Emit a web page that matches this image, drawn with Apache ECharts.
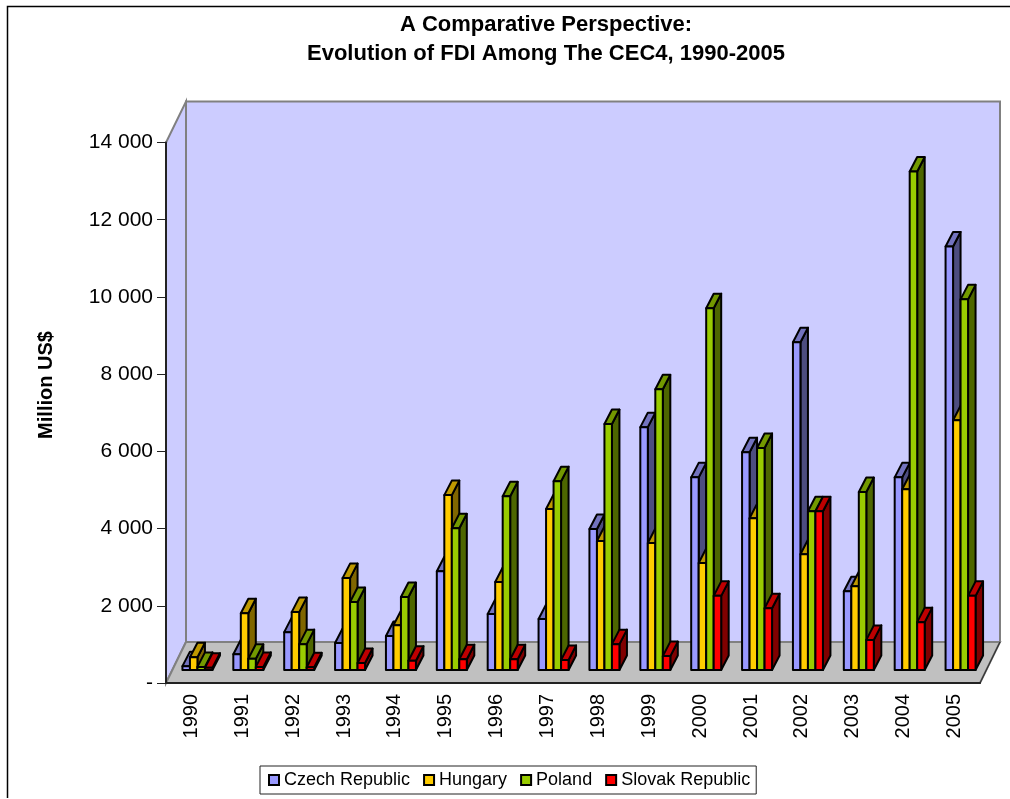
<!DOCTYPE html>
<html><head><meta charset="utf-8">
<style>html,body{margin:0;padding:0;background:#fff}#c{width:1010px;height:799px}</style>
<script src="https://cdn.jsdelivr.net/npm/echarts@6/dist/echarts.min.js"></script>
</head><body><div id="c"></div>
<script>
const years = ['1990','1991','1992','1993','1994','1995','1996','1997','1998','1999','2000','2001','2002','2003','2004','2005'];
const czech   = [100,410,980,700,880,2560,1450,1320,3650,6290,4990,5640,8490,2040,4990,10970];
const hungary = [330,1470,1500,2380,1160,4530,2280,4170,3340,3290,2770,3930,3000,2170,4680,6470];
const poland  = [80,290,670,1760,1890,3670,4500,4890,6370,7270,9370,5750,4110,4610,12910,9600];
const slovak  = [60,80,70,180,240,280,280,260,670,360,1920,1600,4110,780,1240,1920];
const yTicks = {0:'-',2000:'2 000',4000:'4 000',6000:'6 000',8000:'8 000',10000:'10 000',12000:'12 000',14000:'14 000'};

const WALL_DX = 20, WALL_DY = 41, BAR_OFF_X = 6, BAR_OFF_Y = 13, BAR_W = 7.5, CAP_DX = 7.5, CAP_DY = 14.5;
const shade = (c, k) => { const n = parseInt(c.slice(1), 16);
  return 'rgb(' + [(n>>16)&255,(n>>8)&255,n&255].map(v => Math.round(v*k)).join(',') + ')'; };

function barSeries(name, data, idx, color) {
  return { name, type: 'custom', coordinateSystem: 'cartesian2d', clip: false,
    itemStyle: { color, borderColor: '#000', borderWidth: 2 },
    data: data.map((v, i) => [years[i], v]), encode: { x: 0, y: 1 },
    renderItem(params, api) {
      const top = api.coord([api.value(0), api.value(1)]);
      const base = api.coord([api.value(0), 0]);
      const x = top[0] + BAR_OFF_X + (idx - 2) * BAR_W, x2 = x + BAR_W;
      const yt = top[1] - BAR_OFF_Y, yb = base[1] - BAR_OFF_Y;
      const st = { stroke: '#000', lineWidth: 2, lineJoin: 'round' };
      const poly = (points, fill) => ({ type: 'polygon', shape: { points }, style: { ...st, fill } });
      return { type: 'group', children: [
        poly([[x2,yb],[x2,yt],[x2+CAP_DX,yt-CAP_DY],[x2+CAP_DX,yb-CAP_DY]], shade(color,.5)),
        poly([[x,yt],[x2,yt],[x2+CAP_DX,yt-CAP_DY],[x+CAP_DX,yt-CAP_DY]], shade(color,.75)),
        poly([[x,yb],[x,yt],[x2,yt],[x2,yb]], color)
      ]};
    } };
}
const wallSeries = { name: 'walls', type: 'custom', coordinateSystem: 'cartesian2d', clip: false, silent: true,
  data: [[years[0], 0]], encode: { x: 0, y: 1 },
  renderItem(params) {
    const c = params.coordSys, x0 = c.x, x1 = c.x + c.width, y0 = c.y, y1 = c.y + c.height;
    const grey = { stroke: '#808080', lineWidth: 2 };
    return { type: 'group', children: [
      { type: 'polygon', shape: { points: [[x0,y1],[x0,y0],[x0+WALL_DX,y0-WALL_DY],[x0+WALL_DX,y1-WALL_DY]] }, style: { fill: '#CCCCFF', ...grey } },
      { type: 'polygon', shape: { points: [[x0+WALL_DX,y0-WALL_DY],[x1+WALL_DX,y0-WALL_DY],[x1+WALL_DX,y1-WALL_DY],[x0+WALL_DX,y1-WALL_DY]] }, style: { fill: '#CCCCFF', ...grey } },
      { type: 'polygon', shape: { points: [[x0,y1],[x0+WALL_DX,y1-WALL_DY],[x1+WALL_DX,y1-WALL_DY],[x1,y1]] }, style: { fill: '#C0C0C0', ...grey } },
      { type: 'line', shape: { x1: x1, y1: y1, x2: x1+WALL_DX, y2: y1-WALL_DY }, style: { stroke: '#333', lineWidth: 1.2 } }
    ]};
  } };

const font = '"Liberation Sans", Arial, sans-serif';
const chart = echarts.init(document.getElementById('c'), null, { renderer: 'canvas' });
chart.setOption({
  animation: false, backgroundColor: '#fff',
  title: { text: 'A Comparative Perspective:\nEvolution of FDI Among The CEC4, 1990-2005', left: 541, top: 5, textAlign: 'center',
    textStyle: { fontFamily: font, fontSize: 22, fontWeight: 'bold', color: '#000', lineHeight: 29 } },
  grid: { left: 166, right: 30, top: 142.5, bottom: 116 },
  xAxis: { type: 'category', data: years, z: 5,
    axisLine: { lineStyle: { color: '#222', width: 2 } },
    axisTick: { alignWithLabel: false, length: 9, lineStyle: { color: '#222', width: 1 } },
    axisLabel: { rotate: 90, margin: 11, fontSize: 20, color: '#000', fontFamily: font, interval: 0 } },
  yAxis: { type: 'value', min: 0, max: 14000, interval: 2000, z: 5,
    axisLine: { show: true, lineStyle: { color: '#222', width: 2 } },
    axisTick: { show: true, length: 9, lineStyle: { color: '#222', width: 1 } },
    splitLine: { show: false },
    axisLabel: { margin: 13, fontSize: 21, color: '#000', fontFamily: font, formatter: v => yTicks[v] } },
  legend: { data: ['Czech Republic','Hungary','Poland','Slovak Republic'], left: 260, top: 766, orient: 'horizontal',
    icon: 'rect', itemWidth: 10, itemHeight: 10, itemGap: 13, padding: [5, 6, 5, 8],
    borderColor: '#222', borderWidth: 1, backgroundColor: '#fff',
    textStyle: { fontFamily: font, fontSize: 18, color: '#000', padding: [0,0,0,0] } },
  graphic: [
    { type: 'text', x: 46, y: 385, rotation: Math.PI / 2, style: { text: 'Million US$', fill: '#000', font: 'bold 20px ' + font, align: 'center', verticalAlign: 'middle' } },
    { type: 'polyline', silent: true, shape: { points: [[1010,6.5],[7.5,6.5],[7.5,798]] }, style: { fill: 'none', stroke: '#000', lineWidth: 1.5 } }
  ],
  series: [ wallSeries,
    barSeries('Czech Republic', czech, 0, '#9999FF'),
    barSeries('Hungary', hungary, 1, '#FFCC00'),
    barSeries('Poland', poland, 2, '#99CC00'),
    barSeries('Slovak Republic', slovak, 3, '#FF0000') ]
});
</script></body></html>
